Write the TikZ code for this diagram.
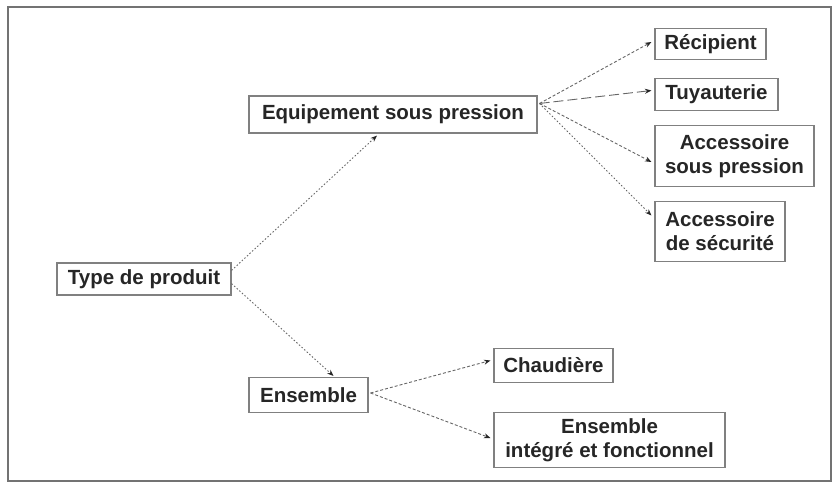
\documentclass[tikz,border=0pt]{standalone}
\usepackage{fontspec}
\setmainfont{Liberation Sans}
\usetikzlibrary{arrows.meta}
\begin{document}
\begin{tikzpicture}[x=1pt,y=-1pt,
  box/.style={draw=black!50, line width=1.1pt, inner sep=0pt, align=center,
    font=\fontsize{20.5}{24}\selectfont\bfseries, text=black!85},
  link/.style={draw=black!60, line width=0.9pt, densely dashed,
    -{Stealth[length=6.5pt,width=5pt,color=black!85]}},
  linkd/.style={link, dash pattern=on 1.5pt off 2pt},
  linkl/.style={link, dash pattern=on 10pt off 4pt}]
\useasboundingbox (0,0) rectangle (839,488);
\draw[black!55, line width=1.2pt] (8,7) rectangle (831,481);
\node[box, minimum width=174, minimum height=32] (type) at (144,279) {Type de produit};
\node[box, minimum width=288, minimum height=37] (equip) at (393,114.5) {Equipement sous pression};
\node[box, minimum width=111, minimum height=31] (recip) at (710.5,44) {Récipient};
\node[box, minimum width=123, minimum height=32] (tuy) at (716.5,94.5) {Tuyauterie};
\node[box, minimum width=159, minimum height=61] (accp) at (734.5,156) {Accessoire\\sous pression};
\node[box, minimum width=130, minimum height=60] (accs) at (720,231.5) {Accessoire\\de sécurité};
\node[box, minimum width=119, minimum height=35] (ens) at (308.5,395) {Ensemble};
\node[box, minimum width=119, minimum height=34] (chaud) at (553.5,365.5) {Chaudière};
\node[box, minimum width=231, minimum height=55] (ensi) at (609.5,440) {Ensemble\\intégré et fonctionnel};
\coordinate (tA) at ([yshift=-8]type.north east);
\coordinate (tB) at ([yshift=12]type.south east);
\coordinate (eS) at ([xshift=-16,yshift=-2]equip.south);
\coordinate (eN) at ([xshift=25,yshift=1]ens.north);
\coordinate (eo) at ([xshift=2,yshift=-8]equip.north east);
\coordinate (nR) at ([xshift=-3,yshift=2]recip.west);
\coordinate (nT) at ([xshift=-3,yshift=4]tuy.west);
\coordinate (nP) at ([xshift=-3,yshift=-6]accp.west);
\coordinate (nS) at ([xshift=-3,yshift=16]accs.west);
\coordinate (so) at ([xshift=2,yshift=2]ens.east);
\coordinate (nC) at ([xshift=-3,yshift=5]chaud.west);
\coordinate (nI) at ([xshift=-3,yshift=2]ensi.west);
\draw[linkd] (tA) -- (eS);
\draw[linkd] (tB) -- (eN);
\draw[link] (eo) -- (nR);
\draw[linkl] (eo) -- (nT);
\draw[link] (eo) -- (nP);
\draw[linkd] (eo) -- (nS);
\draw[link] (so) -- (nC);
\draw[link] (so) -- (nI);
\end{tikzpicture}
\end{document}
